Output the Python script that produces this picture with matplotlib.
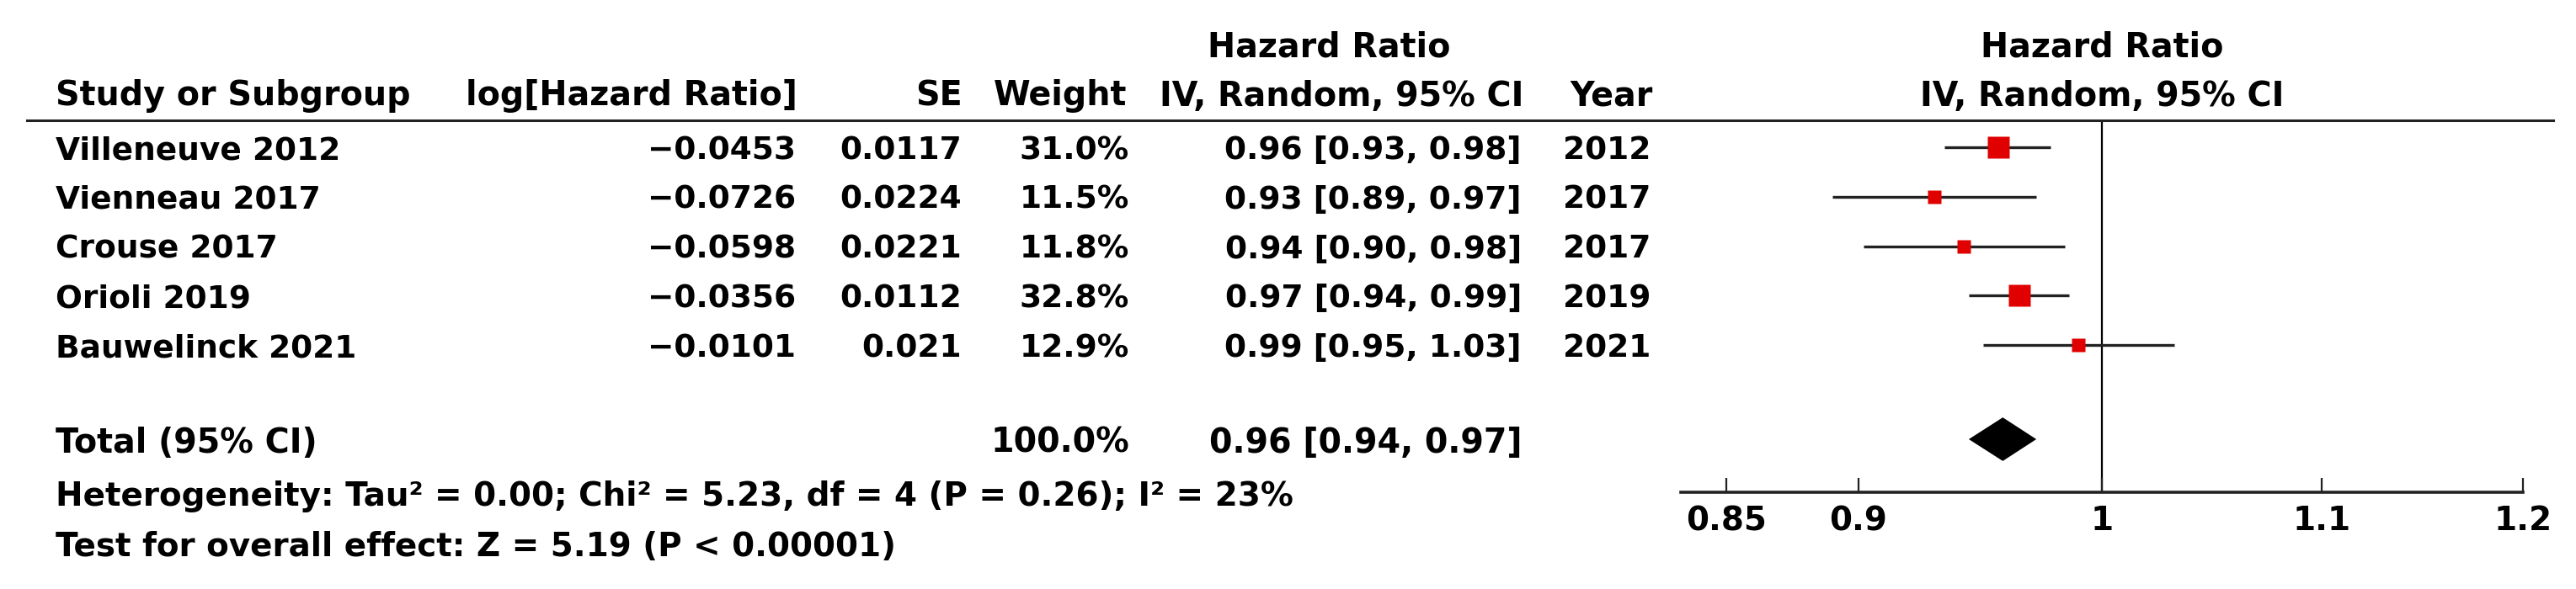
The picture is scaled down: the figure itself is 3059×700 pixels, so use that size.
import matplotlib
matplotlib.use('Agg')
import numpy as np
import matplotlib.pyplot as plt
import matplotlib.transforms as mtransforms
from matplotlib.lines import Line2D
from matplotlib.ticker import NullLocator

# data
studies = ['Villeneuve 2012', 'Vienneau 2017', 'Crouse 2017', 'Orioli 2019', 'Bauwelinck 2021']
log_hr = [-0.0453, -0.0726, -0.0598, -0.0356, -0.0101]
se = [0.0117, 0.0224, 0.0221, 0.0112, 0.021]
weights = [31.0, 11.5, 11.8, 32.8, 12.9]
years = [2012, 2017, 2017, 2019, 2021]
hr = [0.956, 0.930, 0.942, 0.965, 0.990]
ci_lo = [0.934, 0.890, 0.902, 0.944, 0.950]
ci_hi = [0.978, 0.972, 0.984, 0.986, 1.032]
ci_labels = ['0.96 [0.93, 0.98]', '0.93 [0.89, 0.97]', '0.94 [0.90, 0.98]',
             '0.97 [0.94, 0.99]', '0.99 [0.95, 1.03]']

total_weight = '100.0%'
total_hr, total_lo, total_hi = 0.958, 0.944, 0.972
total_label = '0.96 [0.94, 0.97]'
het_text = 'Heterogeneity: Tau\u00b2 = 0.00; Chi\u00b2 = 5.23, df = 4 (P = 0.26); I\u00b2 = 23%'
test_text = 'Test for overall effect: Z = 5.19 (P < 0.00001)'

xticks = [0.85, 0.9, 1, 1.1, 1.2]
xtick_labels = ['0.85', '0.9', '1', '1.1', '1.2']

W, H = 3059, 700
fig = plt.figure(figsize=(W / 100, H / 100), dpi=100)
plt.rcParams['font.family'] = ['DejaVu Sans']

# layout in pixels
row0, step = 175, 58.8
ax_l, ax_r, ax_t, ax_b = 1996, 2996, 143, 585

def row_of(px):
    return (px - row0) / step

ax = fig.add_axes([ax_l / W, 1 - ax_b / H, (ax_r - ax_l) / W, (ax_b - ax_t) / H])
ax.patch.set_visible(False)
ax.set_xscale('log')
ax.set_xlim(1 / 1.2, 1.2)
ax.set_ylim(row_of(ax_b), row_of(ax_t))

rows = np.arange(len(studies))
total_row = row_of(522)

for i in rows:
    ax.plot([ci_lo[i], ci_hi[i]], [i, i], color='#222222', lw=2.4,
            solid_capstyle='butt', zorder=2)
    ax.plot(hr[i], i, marker='s', ms=3.25 * np.sqrt(weights[i]),
            color='#e00000', mec='none', zorder=3)

ax.fill([total_lo, total_hr, total_hi, total_hr],
        [total_row, total_row - 0.44, total_row, total_row + 0.44],
        color='black', lw=0, zorder=3)

ax.axvline(1, color='black', lw=1.6, zorder=1)

for s in ['top', 'left', 'right']:
    ax.spines[s].set_visible(False)
ax.spines['bottom'].set_linewidth(2.6)
ax.spines['bottom'].set_color('#222222')
ax.set_yticks([])
ax.set_xticks(xticks)
ax.xaxis.set_minor_locator(NullLocator())
ax.set_xticklabels(xtick_labels, fontweight='bold', fontsize=28)
ax.tick_params(axis='x', direction='in', length=12, width=1.6, pad=11, color='#222222')

# header rule
fig.add_artist(Line2D([32 / W, 3032 / W], [1 - ax_t / H] * 2,
                      transform=fig.transFigure, color='#222222', lw=2.2))

blend = mtransforms.blended_transform_factory(fig.transFigure, ax.transData)

def put(x, row, s, ha='left', bold=True, size=27):
    fig.text(x / W, row, s, transform=blend, ha=ha, va='center_baseline',
             fontsize=size, fontweight='bold' if bold else 'normal', clip_on=False)

hsize = 28.5
h1, h2 = row_of(52), row_of(110)
put(1578, h1, 'Hazard Ratio', 'center', size=hsize)
put(2496, h1, 'Hazard Ratio', 'center', size=hsize)
put(66, h2, 'Study or Subgroup', size=hsize)
put(947, h2, 'log[Hazard Ratio]', 'right', size=hsize)
put(1143, h2, 'SE', 'right', size=hsize)
put(1338, h2, 'Weight', 'right', size=hsize)
put(1593, h2, 'IV, Random, 95% CI', 'center', size=hsize)
put(1963, h2, 'Year', 'right', size=hsize)
put(2496, h2, 'IV, Random, 95% CI', 'center', size=hsize)

for i in rows:
    put(66, i, studies[i])
    put(945, i, str(log_hr[i]).replace('-', '\u2212'), 'right')
    put(1142, i, str(se[i]), 'right')
    put(1341, i, f'{weights[i]:.1f}%', 'right')
    put(1807, i, ci_labels[i], 'right')
    put(1960, i, str(years[i]), 'right')

put(66, total_row, 'Total (95% CI)', size=hsize)
put(1341, total_row, total_weight, 'right', size=hsize)
put(1807, total_row, total_label, 'right', size=hsize)
put(66, row_of(586), het_text, size=28)
put(66, row_of(646), test_text, size=28)

fig.savefig('out.png', dpi=100, facecolor='white')
